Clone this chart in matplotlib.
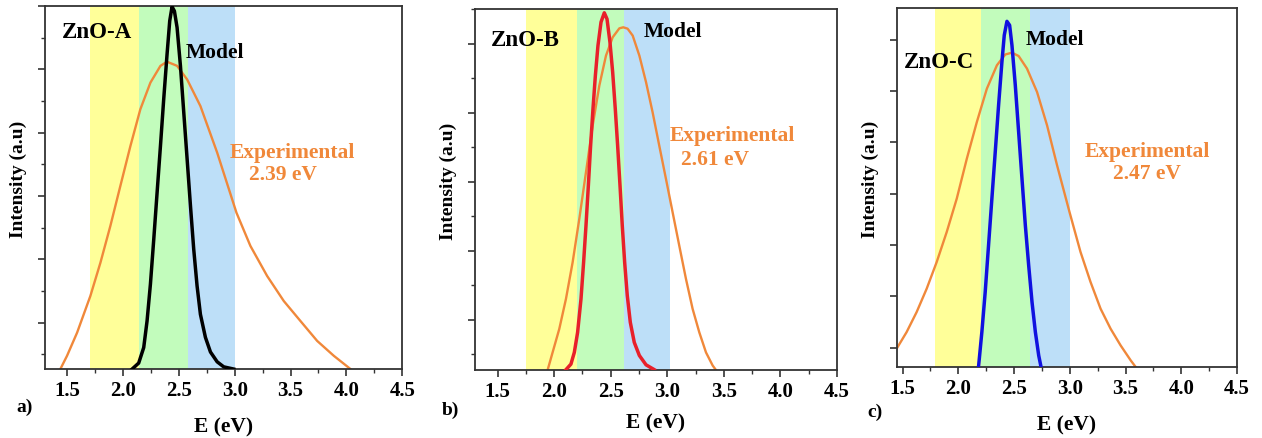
import matplotlib
matplotlib.use("Agg")
import matplotlib.pyplot as plt
from matplotlib.ticker import MultipleLocator

plt.rcParams['font.family'] = ['Liberation Serif', 'DejaVu Serif']
plt.rcParams['font.weight'] = 'bold'

# ---- panel a : ZnO-A ----
a_exp_E = [1.437, 1.497, 1.587, 1.706, 1.796, 1.885, 1.975, 2.065, 2.154, 2.244, 2.334, 2.393,
           2.483, 2.573, 2.692, 2.842, 3.015, 3.140, 3.290, 3.439, 3.588, 3.738, 3.887, 4.037]
a_exp_I = [-0.147, -0.105, -0.032, 0.084, 0.189, 0.305, 0.432, 0.558, 0.674, 0.758, 0.811, 0.824,
           0.811, 0.768, 0.684, 0.537, 0.347, 0.242, 0.147, 0.068, 0.005, -0.058, -0.105, -0.147]
a_mod_E = [2.080, 2.139, 2.184, 2.214, 2.244, 2.274, 2.304, 2.334, 2.363, 2.393, 2.417, 2.438, 2.459,
           2.483, 2.513, 2.543, 2.573, 2.603, 2.632, 2.662, 2.692, 2.737, 2.782, 2.842, 2.901, 2.991]
a_mod_I = [-0.147, -0.128, -0.079, 0.005, 0.121, 0.263, 0.411, 0.558, 0.705, 0.847, 0.953, 0.998, 0.984,
           0.932, 0.811, 0.663, 0.516, 0.368, 0.232, 0.116, 0.026, -0.047, -0.093, -0.124, -0.140, -0.147]
a_bands = [1.70, 2.14, 2.58, 3.00]

# ---- panel b : ZnO-B ----
b_exp_E = [1.942, 1.986, 2.045, 2.104, 2.163, 2.222, 2.281, 2.340, 2.399, 2.458, 2.517, 2.576, 2.611,
           2.649, 2.694, 2.753, 2.812, 2.870, 2.929, 2.988, 3.047, 3.106, 3.165, 3.224, 3.283, 3.342,
           3.401, 3.430]
b_exp_I = [-0.146, -0.095, -0.027, 0.060, 0.166, 0.292, 0.427, 0.562, 0.678, 0.765, 0.818, 0.844, 0.847,
           0.843, 0.823, 0.765, 0.688, 0.601, 0.504, 0.408, 0.311, 0.214, 0.118, 0.031, -0.037, -0.095,
           -0.133, -0.146]
b_mod_E = [2.104, 2.148, 2.178, 2.207, 2.237, 2.260, 2.281, 2.302, 2.322, 2.343, 2.364, 2.387, 2.414,
           2.443, 2.467, 2.493, 2.517, 2.540, 2.561, 2.582, 2.602, 2.623, 2.646, 2.673, 2.708, 2.753,
           2.812, 2.885]
b_mod_I = [-0.145, -0.129, -0.095, -0.037, 0.060, 0.166, 0.272, 0.388, 0.504, 0.611, 0.707, 0.794, 0.862,
           0.889, 0.871, 0.804, 0.717, 0.611, 0.504, 0.388, 0.272, 0.166, 0.070, -0.008, -0.066, -0.104,
           -0.131, -0.145]
b_bands = [1.75, 2.20, 2.62, 3.02]

# ---- panel c : ZnO-C ----
c_exp_E = [1.446, 1.536, 1.626, 1.716, 1.806, 1.896, 1.986, 2.076, 2.166, 2.256, 2.346, 2.421, 2.481,
           2.541, 2.616, 2.706, 2.796, 2.886, 2.997, 3.096, 3.186, 3.276, 3.366, 3.456, 3.546, 3.591]
c_exp_I = [-0.004, 0.061, 0.139, 0.230, 0.334, 0.451, 0.581, 0.736, 0.879, 1.009, 1.100, 1.142, 1.149,
           1.136, 1.087, 0.996, 0.866, 0.710, 0.529, 0.373, 0.256, 0.152, 0.074, 0.009, -0.049, -0.075]
c_mod_E = [2.181, 2.211, 2.241, 2.271, 2.301, 2.331, 2.361, 2.391, 2.412, 2.436, 2.460, 2.481, 2.511,
           2.541, 2.571, 2.601, 2.631, 2.661, 2.691, 2.721, 2.742]
c_mod_I = [-0.075, 0.061, 0.217, 0.399, 0.581, 0.762, 0.944, 1.113, 1.217, 1.271, 1.256, 1.178, 1.022,
           0.840, 0.658, 0.477, 0.321, 0.178, 0.061, -0.030, -0.075]
c_bands = [1.79, 2.20, 2.64, 3.00]

x_ticks = [1.5, 2.0, 2.5, 3.0, 3.5, 4.0, 4.5]
band_colors = ['#ffff99', '#c2fcbc', '#bddff8']
exp_color = '#f0883a'

panels = [
    dict(rect=[0.0357, 0.157, 0.283, 0.827], xlim=(1.3, 4.5), ylim=(-0.147, 1.0),
         major=0.2, minor=0.1, bands=a_bands, exp=(a_exp_E, a_exp_I), mod=(a_mod_E, a_mod_I),
         mod_color='black', name='ZnO-A', name_xy=(62, 33), model_xy=(186, 53),
         exp_xy=(292, 153), ev_xy=(283, 175), ev='2.39 eV', tag='a)', tag_xy=(16, 407),
         ylab_x=18, xlab_y=427),
    dict(rect=[0.3764, 0.1549, 0.2868, 0.8223], xlim=(1.3, 4.5), ylim=(-0.146, 0.9),
         major=0.2, minor=0.1, bands=b_bands, exp=(b_exp_E, b_exp_I), mod=(b_mod_E, b_mod_I),
         mod_color='#e8202a', name='ZnO-B', name_xy=(491, 40), model_xy=(644, 32),
         exp_xy=(732, 136), ev_xy=(715, 160), ev='2.61 eV', tag='b)', tag_xy=(442, 410),
         ylab_x=448, xlab_y=423),
    dict(rect=[0.7108, 0.1617, 0.2694, 0.8178], xlim=(1.45, 4.5), ylim=(-0.075, 1.323),
         major=0.2, minor=None, bands=c_bands, exp=(c_exp_E, c_exp_I), mod=(c_mod_E, c_mod_I),
         mod_color='#1010e0', name='ZnO-C', name_xy=(904, 62), model_xy=(1026, 40),
         exp_xy=(1147, 152), ev_xy=(1147, 174), ev='2.47 eV', tag='c)', tag_xy=(867, 412),
         ylab_x=870, xlab_y=425),
]

W, H = 1262, 439
fig = plt.figure(figsize=(W / 100, H / 100), dpi=100)

for p in panels:
    ax = fig.add_axes(p['rect'])
    b = p['bands']
    for i in range(3):
        ax.axvspan(b[i], b[i + 1], color=band_colors[i], lw=0, zorder=0)
    ax.plot(p['exp'][0], p['exp'][1], color=exp_color, lw=1.7, zorder=2)
    ax.plot(p['mod'][0], p['mod'][1], color=p['mod_color'], lw=2.5, zorder=3)
    ax.set_xlim(*p['xlim'])
    ax.set_ylim(*p['ylim'])
    ax.set_xticks(x_ticks)
    ax.xaxis.set_minor_locator(MultipleLocator(0.25))
    ax.yaxis.set_major_locator(MultipleLocator(p['major']))
    if p['minor']:
        ax.yaxis.set_minor_locator(MultipleLocator(p['minor']))
    ax.set_yticklabels([])
    ax.tick_params(axis='both', which='major', direction='out', length=5, width=1.2,
                   color='#333333', labelsize=15)
    ax.tick_params(axis='both', which='minor', direction='out', length=3, width=1.0,
                   color='#333333')
    ax.tick_params(axis='x', pad=3)
    for sp in ax.spines.values():
        sp.set_linewidth(1.3)
        sp.set_color('#333333')

    def fxy(xy):
        return xy[0] / W, 1 - xy[1] / H

    fig.text(*fxy(p['name_xy']), p['name'], fontsize=16.5, fontweight='bold', va='center', ha='left')
    fig.text(*fxy(p['model_xy']), 'Model', fontsize=15.5, fontweight='bold', va='center', ha='left')
    fig.text(*fxy(p['exp_xy']), 'Experimental', fontsize=15.5, fontweight='bold', color=exp_color,
             va='center', ha='center')
    fig.text(*fxy(p['ev_xy']), p['ev'], fontsize=15.5, fontweight='bold', color=exp_color,
             va='center', ha='center')
    fig.text(*fxy(p['tag_xy']), p['tag'], fontsize=14, fontweight='bold', va='center', ha='left')
    x0, y0, w, h = p['rect']
    fig.text(x0 + w / 2, 1 - p['xlab_y'] / H, 'E (eV)', fontsize=15.5, fontweight='bold',
             ha='center', va='center')
    fig.text(p['ylab_x'] / W, y0 + h / 2 + 0.02, 'Intensity (a.u)', fontsize=14, fontweight='bold',
             rotation=90, ha='center', va='center')

fig.savefig('out.png', dpi=100)
